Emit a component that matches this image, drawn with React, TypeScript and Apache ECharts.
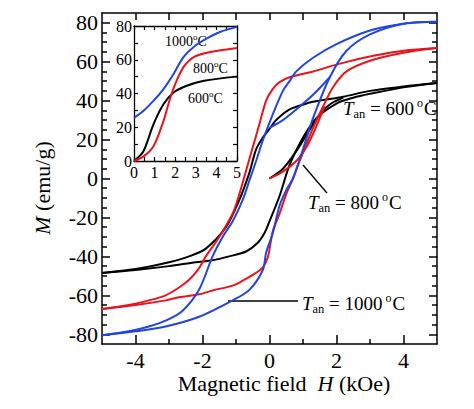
import React, { useEffect, useRef } from 'react';
import * as echarts from 'echarts';

const FONT = 'Liberation Serif';
const BLACK = '#000000';
const RED = '#e8141c';
const BLUE = '#2244e0';

// ---- main plot tick values ----
const xMajorTicks = [-4, -2, 0, 2, 4];
const xMinorTicks = [-3, -1, 1, 3];
const xTopTicks = [-4, -3, -2, -1, 0, 1, 2, 3, 4];
const yMajorTicks = [-80, -60, -40, -20, 0, 20, 40, 60, 80];
const yMinorTicks = [-75, -70, -65, -55, -50, -45, -35, -30, -25, -15, -10, -5, 5, 10, 15, 25, 30, 35, 45, 50, 55, 65, 70, 75];
// ---- inset tick labels ----
const insetXLabels = [0, 1, 2, 3, 4, 5];
const insetYLabels = [0, 20, 40, 60, 80];

// ---- T_an = 600 °C (black) ----
const black600Down: [number, number][] = [
  [5, 49], [4, 47.2], [3, 45], [2.2, 42], [1.5, 40], [1.2, 39], [0.6, 35.5], [0.2, 30], [0, 25.5],
  [-0.2, 21], [-0.4, 15], [-0.6, 3], [-0.9, -11], [-1.3, -25], [-1.9, -36], [-2.4, -40], [-3, -43],
  [-4, -46.5], [-5, -48.5],
];
const black600Up: [number, number][] = [
  [-5, -48.5], [-4, -47], [-3, -45], [-2.2, -43], [-1.7, -42], [-1.2, -40], [-0.7, -37.5], [-0.35, -33],
  [-0.15, -28], [0, -22], [0.3, -9], [0.6, 7], [1.0, 21], [1.4, 31], [2, 38.5], [2.5, 41.5], [3, 43.5],
  [4, 46.8], [5, 49],
];
const black600Virgin: [number, number][] = [
  [0, 0], [0.4, 5], [0.8, 14], [1.2, 25], [1.5, 33], [1.8, 38], [2.2, 41.5],
];

// ---- T_an = 800 °C (red) ----
const red800Down: [number, number][] = [
  [5, 67], [4, 65.6], [3.1, 63], [2.1, 59], [1.3, 55], [0.6, 52], [0.3, 49.5], [0.1, 46], [-0.1, 40],
  [-0.3, 28], [-0.5, 16], [-0.7, 4], [-0.9, -8], [-1.1, -18], [-1.5, -30], [-1.9, -40], [-2.1, -46],
  [-2.4, -52], [-2.7, -56], [-3.1, -60], [-3.6, -62.6], [-4.2, -65], [-5, -67],
];
const red800Up: [number, number][] = [
  [-5, -67], [-4, -65], [-3.1, -62.6], [-2.7, -61], [-2.1, -59.5], [-1.7, -57.5], [-1.1, -55], [-0.8, -52.5],
  [-0.5, -49.5], [-0.2, -45.6], [-0.05, -40.5], [0.1, -27], [0.3, -18], [0.5, -8], [0.7, 0], [0.9, 9],
  [1.3, 26], [1.6, 37], [1.9, 47], [2.3, 55], [3, 60.5], [4, 64.6], [5, 67],
];
const red800Virgin: [number, number][] = [
  [0, 0], [0.4, 3.5], [0.8, 9], [1.1, 16], [1.3, 23], [1.5, 31], [1.65, 37],
];

// ---- T_an = 1000 °C (blue) ----
const blue1000Down: [number, number][] = [
  [5, 80.5], [4, 79.5], [3, 76], [2, 69], [1.3, 62], [0.8, 55], [0.6, 50], [0.4, 45], [0.1, 33],
  [-0.2, 19.5], [-0.4, 9], [-0.6, -1], [-0.8, -11], [-1.1, -22], [-1.4, -30], [-1.7, -40], [-2.1, -57],
  [-2.6, -68], [-3.1, -73], [-3.6, -76], [-4.2, -78.5], [-5, -80.5],
];
const blue1000Up: [number, number][] = [
  [-5, -80.5], [-4, -78.5], [-3.1, -76], [-2.1, -71], [-1.1, -62.6], [-0.6, -57.2], [-0.2, -47],
  [-0.1, -38], [0.1, -28], [0.3, -14], [0.5, -6], [0.7, 0], [1, 15], [1.3, 31], [1.8, 52], [2.3, 65.6],
  [3, 74], [4, 79.5], [5, 80.5],
];
const blue1000Virgin: [number, number][] = [
  [0, 26], [0.4, 30], [0.8, 35.5], [1.3, 43], [1.8, 52],
];

// ---- inset: initial magnetization curves ----
const insetBlack: [number, number][] = [
  [0, 0], [0.45, 5.6], [0.94, 21.6], [1.43, 33.6], [1.92, 40.6], [2.56, 44.6], [3.4, 47.6], [5, 50],
];
const insetRed: [number, number][] = [
  [0, 0], [0.45, 2.6], [0.94, 8.6], [1.43, 23.6], [1.7, 35], [2.0, 45.5], [2.4, 55.6], [2.9, 61.6], [3.7, 64.6], [5, 67],
];
const insetBlue: [number, number][] = [
  [0, 25.6], [0.45, 29.6], [0.94, 35.6], [1.43, 42.6], [1.92, 51.6], [2.4, 61.6], [2.9, 67.6], [3.54, 72.6], [4.2, 76.6], [5, 79.5],
];

const MAIN_GRID = { left: 102, top: 13, width: 335, height: 331 };
const INSET_GRID = { left: 134, top: 26, width: 103, height: 135 };

function lineSeries(data: [number, number][], color: string, xi: number, yi: number) {
  return {
    type: 'line',
    data,
    xAxisIndex: xi,
    yAxisIndex: yi,
    showSymbol: false,
    symbol: 'none',
    smooth: 0.3,
    lineStyle: { color, width: 2 },
    silent: true,
  };
}

const axisLine = { show: true, onZero: false, lineStyle: { color: BLACK, width: 1.5 } };
const noLine = { show: false, onZero: false };
const tickStyle = { color: BLACK, width: 1.5 };
const insetLine = { show: true, onZero: false, lineStyle: { color: BLACK, width: 1.3 } };
const insetTick = { show: true, inside: true, length: 4, lineStyle: { color: BLACK, width: 1.2 } };
const mainLabel = { fontFamily: FONT, fontSize: 22, color: BLACK };
const insetLabel = { fontFamily: FONT, fontSize: 16, color: BLACK };

function mainAnnotation(x: number, y: number, value: string) {
  return {
    type: 'text',
    x,
    y,
    style: {
      text: `{i|T}{s|an}{n| = ${value}}{u|o}{n|C}`,
      align: 'left',
      verticalAlign: 'middle',
      fill: BLACK,
      fontFamily: FONT,
      fontSize: 19,
      rich: {
        i: { fontFamily: FONT, fontStyle: 'italic', fontSize: 19, fill: BLACK },
        s: { fontFamily: FONT, fontSize: 12.5, fill: BLACK, padding: [12, 0, 0, 0] },
        n: { fontFamily: FONT, fontSize: 19, fill: BLACK },
        u: { fontFamily: FONT, fontSize: 12, fill: BLACK, padding: [0, 1, 10, 3] },
      },
    },
  };
}

function insetAnnotation(x: number, y: number, value: string) {
  return {
    type: 'text',
    x,
    y,
    style: {
      text: `{n|${value}}{u|o}{n|C}`,
      align: 'left',
      verticalAlign: 'middle',
      fill: BLACK,
      fontFamily: FONT,
      fontSize: 14,
      rich: {
        n: { fontFamily: FONT, fontSize: 14, fill: BLACK },
        u: { fontFamily: FONT, fontSize: 9, fill: BLACK, padding: [0, 0, 8, 0] },
      },
    },
  };
}

const fmt = (v: number) => (v < 0 ? '-' + Math.abs(v) : String(v));

export default function App() {
  const ref = useRef<HTMLDivElement>(null);
  useEffect(() => {
    const chart = echarts.init(ref.current!, null, { renderer: 'svg' });
    const option: any = {
      animation: false,
      backgroundColor: '#ffffff',
      grid: [
        { ...MAIN_GRID, containLabel: false },
        { ...INSET_GRID, containLabel: false },
        { ...MAIN_GRID, containLabel: false },
      ],
      xAxis: [
        {
          gridIndex: 0, type: 'value', position: 'bottom', min: -5, max: 5,
          axisLine,
          axisTick: { show: true, inside: true, length: 9, customValues: xMajorTicks, lineStyle: tickStyle },
          axisLabel: { customValues: xMajorTicks, margin: 5, formatter: fmt, ...mainLabel },
          splitLine: { show: false },
        },
        {
          gridIndex: 0, type: 'value', position: 'top', min: -5, max: 5,
          axisLine,
          axisTick: { show: true, inside: true, length: 7, customValues: xTopTicks, lineStyle: tickStyle },
          axisLabel: { show: false },
          splitLine: { show: false },
        },
        {
          gridIndex: 2, type: 'value', position: 'bottom', min: -5, max: 5,
          axisLine: noLine,
          axisTick: { show: true, inside: true, length: 5, customValues: xMinorTicks, lineStyle: tickStyle },
          axisLabel: { show: false },
          splitLine: { show: false },
        },
        {
          gridIndex: 1, type: 'value', position: 'bottom', min: 0, max: 5, interval: 0.5,
          axisLine: insetLine, axisTick: insetTick,
          axisLabel: { customValues: insetXLabels, margin: 3, formatter: fmt, ...insetLabel },
          splitLine: { show: false },
        },
        {
          gridIndex: 1, type: 'value', position: 'top', min: 0, max: 5, interval: 0.5,
          axisLine: insetLine, axisTick: insetTick, axisLabel: { show: false }, splitLine: { show: false },
        },
      ],
      yAxis: [
        {
          gridIndex: 0, type: 'value', position: 'left', min: -85, max: 85,
          axisLine,
          axisTick: { show: true, inside: true, length: 8, customValues: yMajorTicks, lineStyle: tickStyle },
          axisLabel: { customValues: yMajorTicks, margin: 4, formatter: fmt, ...mainLabel },
          splitLine: { show: false },
        },
        {
          gridIndex: 0, type: 'value', position: 'right', min: -85, max: 85,
          axisLine,
          axisTick: { show: true, inside: true, length: 8, customValues: yMajorTicks, lineStyle: tickStyle },
          axisLabel: { show: false },
          splitLine: { show: false },
        },
        {
          gridIndex: 2, type: 'value', position: 'left', min: -85, max: 85,
          axisLine: noLine,
          axisTick: { show: true, inside: true, length: 5, customValues: yMinorTicks, lineStyle: tickStyle },
          axisLabel: { show: false },
          splitLine: { show: false },
        },
        {
          gridIndex: 2, type: 'value', position: 'right', min: -85, max: 85,
          axisLine: noLine,
          axisTick: { show: true, inside: true, length: 5, customValues: yMinorTicks, lineStyle: tickStyle },
          axisLabel: { show: false },
          splitLine: { show: false },
        },
        {
          gridIndex: 1, type: 'value', position: 'left', min: 0, max: 80, interval: 10,
          axisLine: insetLine, axisTick: insetTick,
          axisLabel: { customValues: insetYLabels, margin: 2, formatter: fmt, ...insetLabel },
          splitLine: { show: false },
        },
        {
          gridIndex: 1, type: 'value', position: 'right', min: 0, max: 80, interval: 10,
          axisLine: insetLine, axisTick: insetTick, axisLabel: { show: false }, splitLine: { show: false },
        },
      ],
      series: [
        lineSeries(black600Down, BLACK, 0, 0),
        lineSeries(black600Up, BLACK, 0, 0),
        lineSeries(black600Virgin, BLACK, 0, 0),
        lineSeries(red800Down, RED, 0, 0),
        lineSeries(red800Up, RED, 0, 0),
        lineSeries(red800Virgin, RED, 0, 0),
        lineSeries(blue1000Down, BLUE, 0, 0),
        lineSeries(blue1000Up, BLUE, 0, 0),
        lineSeries(blue1000Virgin, BLUE, 0, 0),
        { ...lineSeries(insetBlack, BLACK, 3, 4), z: 6 },
        { ...lineSeries(insetRed, RED, 3, 4), z: 6 },
        { ...lineSeries(insetBlue, BLUE, 3, 4), z: 6 },
      ],
      graphic: [
        mainAnnotation(343, 108, '600'),
        mainAnnotation(308, 202, '800'),
        mainAnnotation(302, 303, '1000'),
        { type: 'line', shape: { x1: 303, y1: 165, x2: 327, y2: 193 }, style: { stroke: BLACK, lineWidth: 1.3 } },
        { type: 'line', shape: { x1: 228, y1: 301, x2: 298, y2: 301 }, style: { stroke: BLACK, lineWidth: 1.3 } },
        insetAnnotation(165, 41, '1000'),
        insetAnnotation(193, 68, '800'),
        insetAnnotation(188, 98, '600'),
        {
          type: 'text', x: 42, y: 188, rotation: Math.PI / 2,
          style: {
            text: '{i|M}{n| (emu/g)}', align: 'center', verticalAlign: 'middle', fill: BLACK, fontFamily: FONT, fontSize: 22,
            rich: {
              i: { fontFamily: FONT, fontStyle: 'italic', fontSize: 22, fill: BLACK },
              n: { fontFamily: FONT, fontSize: 22, fill: BLACK },
            },
          },
        },
        {
          type: 'text', x: 284, y: 383,
          style: {
            text: '{n|Magnetic field  }{i|H}{n| (kOe)}', align: 'center', verticalAlign: 'middle', fill: BLACK, fontFamily: FONT, fontSize: 22,
            rich: {
              i: { fontFamily: FONT, fontStyle: 'italic', fontSize: 22, fill: BLACK },
              n: { fontFamily: FONT, fontSize: 22, fill: BLACK },
            },
          },
        },
      ],
    };
    chart.setOption(option);
    return () => chart.dispose();
  }, []);
  return (
    <div
      ref={ref}
      style={{ position: 'fixed', left: 0, top: 0, width: 474, height: 409, background: '#ffffff' }}
    />
  );
}
